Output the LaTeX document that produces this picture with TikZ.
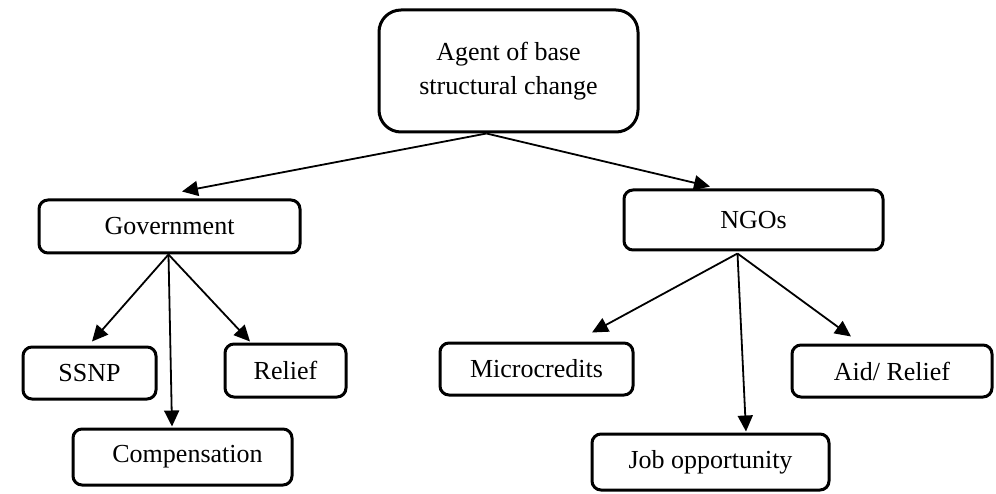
\documentclass[tikz,border=0pt]{standalone}
\usepackage{fontspec}
\setmainfont{Liberation Serif}
\usetikzlibrary{arrows.meta}
\begin{document}
\begin{tikzpicture}[x=1pt,y=-1pt,
  box/.style={draw=black, line width=3pt, rounded corners=9pt, inner sep=0pt,
    font=\fontsize{26}{34}\selectfont, align=center},
  arr/.style={line width=1.8pt, -{Triangle[length=16pt,width=15pt]}}]
\useasboundingbox (0,0) rectangle (996,494);
\node[box, rounded corners=22pt, minimum width=259pt, minimum height=122pt] (top) at (508.5,71) {Agent of base\\structural change};
\node[box, minimum width=261pt, minimum height=53pt] (gov) at (169.5,226.5) {Government};
\node[box, minimum width=259pt, minimum height=60pt] (ngo) at (753.5,220) {NGOs};
\node[box, minimum width=133pt, minimum height=52pt] (ssnp) at (89.5,373) {SSNP};
\node[box, minimum width=121pt, minimum height=53pt] (relief) at (285.5,370.5) {Relief};
\node[box, minimum width=219pt, minimum height=56pt] (comp) at (182.5,457) {\hspace{10pt}Compensation};
\node[box, minimum width=193pt, minimum height=52pt] (micro) at (536.5,369) {Microcredits};
\node[box, minimum width=200pt, minimum height=52pt] (aid) at (892,371) {Aid/ Relief};
\node[box, minimum width=237pt, minimum height=56pt] (job) at (710.5,462) {Job opportunity};
\coordinate (topout) at ([xshift=-22pt]top.south);
\coordinate (govout) at ([xshift=-1pt]gov.south);
\coordinate (ngoout) at ([xshift=-16pt,yshift=-2pt]ngo.south);
\draw[arr] (topout) -- ([xshift=12.5pt,yshift=7pt]gov.north);
\draw[arr] (topout) -- ([xshift=-43.5pt,yshift=2pt]ngo.north);
\draw[arr] (govout) -- ([xshift=2.5pt,yshift=4pt]ssnp.north);
\draw[arr] (govout) -- ([xshift=-35.5pt,yshift=1pt]relief.north);
\draw[arr] (govout) -- ([xshift=-10.5pt,yshift=1pt]comp.north);
\draw[arr] (ngoout) -- ([xshift=55.5pt,yshift=9pt]micro.north);
\draw[arr] (ngoout) -- ([xshift=35.5pt,yshift=1pt]job.north);
\draw[arr] (ngoout) -- ([xshift=-41pt,yshift=7pt]aid.north);
\end{tikzpicture}
\end{document}
